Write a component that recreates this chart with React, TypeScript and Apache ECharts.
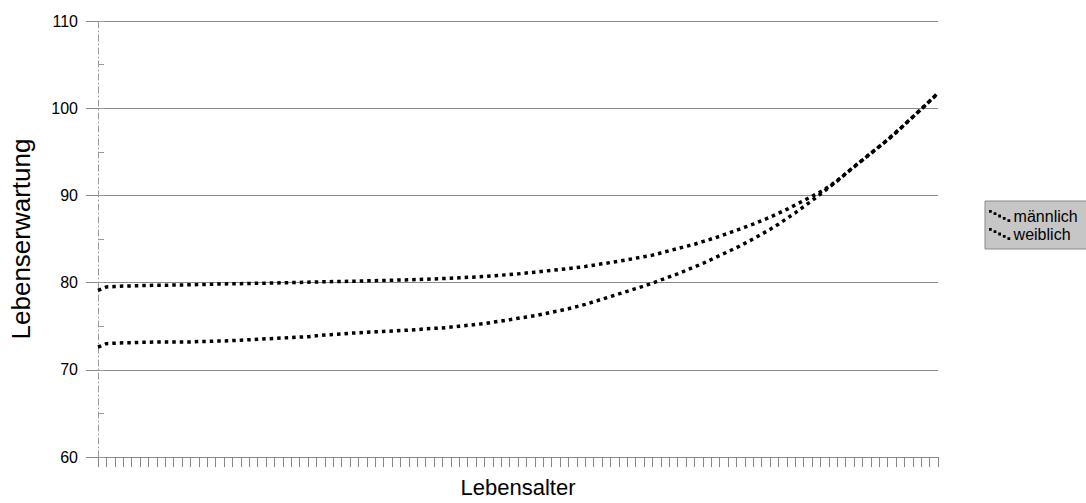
import React, { useEffect, useRef } from "react";
import * as echarts from "echarts";

const ages: string[] = Array.from({ length: 101 }, (_, i) => String(i));

const maennlich: number[] = [
  72.6, 73.0, 73.05, 73.1, 73.1, 73.15, 73.15, 73.2, 73.2, 73.2,
  73.2, 73.2, 73.25, 73.25, 73.3, 73.3, 73.35, 73.4, 73.45, 73.5,
  73.55, 73.6, 73.65, 73.7, 73.75, 73.8, 73.9, 74.0, 74.05, 74.1,
  74.2, 74.25, 74.3, 74.35, 74.4, 74.45, 74.5, 74.55, 74.6, 74.7,
  74.75, 74.8, 74.9, 75.0, 75.1, 75.2, 75.3, 75.45, 75.6, 75.75,
  75.9, 76.05, 76.2, 76.4, 76.6, 76.8, 77.0, 77.25, 77.5, 77.8,
  78.1, 78.4, 78.7, 79.0, 79.3, 79.6, 79.95, 80.3, 80.65, 81.0,
  81.4, 81.8, 82.2, 82.65, 83.1, 83.55, 84.0, 84.5, 85.0, 85.55,
  86.1, 86.7, 87.35, 88.0, 88.7, 89.4, 90.15, 90.9, 91.65, 92.45,
  93.25, 94.05, 94.8, 95.6, 96.35, 97.2, 98.1, 99.0, 99.9, 100.8,
  101.7,
];

const weiblich: number[] = [
  79.1, 79.5, 79.55, 79.6, 79.62, 79.65, 79.67, 79.7, 79.7, 79.72,
  79.73, 79.75, 79.77, 79.8, 79.82, 79.85, 79.87, 79.88, 79.9, 79.92,
  79.94, 79.96, 79.98, 80.0, 80.02, 80.05, 80.07, 80.1, 80.12, 80.13,
  80.15, 80.17, 80.2, 80.22, 80.25, 80.27, 80.3, 80.32, 80.35, 80.38,
  80.42, 80.46, 80.5, 80.55, 80.6, 80.65, 80.7, 80.77, 80.85, 80.92,
  81.0, 81.1, 81.2, 81.3, 81.4, 81.5, 81.6, 81.72, 81.85, 82.0,
  82.15, 82.3, 82.45, 82.62, 82.8, 82.97, 83.15, 83.4, 83.65, 83.9,
  84.15, 84.4, 84.7, 85.0, 85.3, 85.65, 86.0, 86.35, 86.7, 87.1,
  87.5, 87.95, 88.4, 88.9, 89.4, 89.9, 90.4, 91.0, 91.7, 92.5,
  93.3, 94.05, 94.85, 95.6, 96.4, 97.25, 98.1, 99.0, 99.9, 100.8,
  101.75,
];

const yMin = 60;
const yMax = 110;
const yInterval = 10;

const FONT = "'Liberation Sans', Arial, sans-serif";
const LEGEND_ICON =
  "path://M0,0h3v3h-3z M5,2.5h3v3h-3z M10,5h3v3h-3z M15,7.5h3v3h-3z M20,10h3v3h-3z";

export default function App() {
  const ref = useRef<HTMLDivElement>(null);

  useEffect(() => {
    document.body.style.margin = "0";
    if (!ref.current) return;
    const chart = echarts.init(ref.current, undefined, { renderer: "svg" });
    const lineStyle = { color: "#000", width: 3.5, type: [3.5, 4] as any, cap: "butt" as const };
    chart.setOption({
      animation: false,
      backgroundColor: "#fff",
      textStyle: { fontFamily: FONT },
      grid: { left: 97, right: 148, top: 21, bottom: 40, containLabel: false },
      legend: {
        orient: "vertical",
        left: 985,
        top: 201,
        backgroundColor: "#c6c6c6",
        borderColor: "#888",
        borderWidth: 1,
        borderRadius: 0,
        padding: [7, 40, 7, 4],
        itemGap: 2,
        itemWidth: 22,
        itemHeight: 12,
        textStyle: { fontFamily: FONT, fontSize: 16, color: "#000", padding: [0, 0, 0, -2] },
        data: [
          { name: "männlich", icon: LEGEND_ICON },
          { name: "weiblich", icon: LEGEND_ICON },
        ],
      },
      xAxis: {
        type: "category",
        data: ages,
        boundaryGap: false,
        name: "Lebensalter",
        nameLocation: "middle",
        nameGap: 19,
        nameTextStyle: { fontFamily: FONT, fontSize: 22, color: "#000" },
        axisLine: { show: true, lineStyle: { color: "#888", width: 1 } },
        axisTick: { show: true, interval: 0, length: 10, lineStyle: { color: "#888" } },
        axisLabel: { show: false },
        splitLine: { show: false },
      },
      yAxis: [
        {
          type: "value",
          min: yMin,
          max: yMax,
          interval: yInterval,
          name: "Lebenserwartung",
          nameLocation: "middle",
          nameGap: 64,
          nameTextStyle: { fontFamily: FONT, fontSize: 26, color: "#000" },
          axisLine: { show: true, lineStyle: { color: "#999", width: 1, type: [6, 3, 1, 3] } },
          axisTick: { show: true, length: 12, lineStyle: { color: "#888" } },
          axisLabel: { fontFamily: FONT, fontSize: 16, color: "#000", margin: 20 },
          splitLine: { show: true, lineStyle: { color: "#8a8a8a", width: 1 } },
        },
        {
          type: "value",
          min: yMin,
          max: yMax,
          interval: yInterval / 2,
          position: "left",
          axisLine: { show: false },
          axisTick: { show: true, inside: true, length: 6, lineStyle: { color: "#999" } },
          axisLabel: { show: false },
          splitLine: { show: false },
        },
      ],
      series: [
        {
          name: "männlich",
          type: "line",
          data: maennlich,
          symbol: "none",
          showSymbol: false,
          lineStyle,
          itemStyle: { color: "#000" },
          z: 3,
        },
        {
          name: "weiblich",
          type: "line",
          data: weiblich,
          symbol: "none",
          showSymbol: false,
          lineStyle,
          itemStyle: { color: "#000" },
          z: 3,
        },
      ],
    });
    return () => chart.dispose();
  }, []);

  return (
    <div
      ref={ref}
      style={{ position: "fixed", left: 0, top: 0, width: 1086, height: 503 }}
    />
  );
}
